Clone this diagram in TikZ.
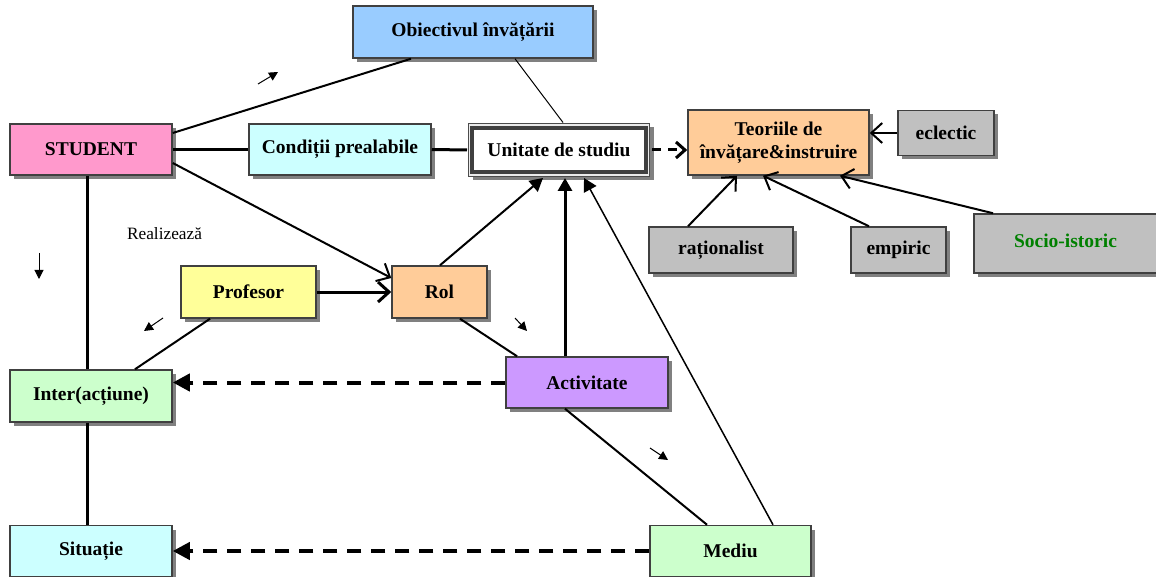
\documentclass[tikz,border=0pt]{standalone}
\usepackage{fontspec}
\setmainfont{Liberation Serif}
\usetikzlibrary{arrows.meta,shadows,calc}
\definecolor{cpink}{HTML}{FF99CC}
\definecolor{cblue}{HTML}{99CCFF}
\definecolor{ccyan}{HTML}{CCFFFF}
\definecolor{corange}{HTML}{FFCC99}
\definecolor{cgrey}{HTML}{C0C0C0}
\definecolor{cyellow}{HTML}{FFFF99}
\definecolor{cpurple}{HTML}{CC99FF}
\definecolor{cgreen}{HTML}{CCFFCC}
\definecolor{dgreen}{HTML}{008000}
\definecolor{bord}{HTML}{404040}
\begin{document}
\begin{tikzpicture}[x=1pt,y=-1pt,
  shad/.style={drop shadow={shadow xshift=4pt,shadow yshift=-4pt,fill=black!50,opacity=1}},
  box/.style={draw=bord,line width=1.5pt,inner sep=0pt,align=center,
    font=\fontsize{19.5}{22}\selectfont\bfseries,shad},
  ln/.style={line width=2pt},
  thk/.style={line width=3pt},
  thn/.style={line width=1pt},
  oarr/.style={-{Straight Barb[length=11pt,width=20pt]}},
  farr/.style={-{Triangle[length=13pt,width=14pt]}},
  darr/.style={line width=4pt,dash pattern=on 14pt off 10pt,-{Triangle[length=17pt,width=17pt]}},
  small/.style={line width=1pt,-{Triangle[length=9pt,width=9pt]}}]
\useasboundingbox (0,0) rectangle (1156,577);
% nodes
\node[box,fill=cpink,minimum width=162pt,minimum height=51pt] (st) at (91,149.5) {STUDENT};
\node[box,fill=cblue,minimum width=240pt,minimum height=52pt] (ob) at (473,32) {Obiectivul învățării};
\node[box,fill=ccyan,minimum width=182pt,minimum height=51pt] (co) at (340,149.5) {Condiții prealabile};
\coordinate (unc) at (559,150);
\draw[line width=1pt,draw=black!70,fill=black!8,shad] ($(unc)+(-90.5pt,26.5pt)$) rectangle ($(unc)+(90.5pt,-26.5pt)$);
\node[fill=white,draw=black!75,line width=4pt,inner sep=0pt,minimum width=174pt,minimum height=44pt,
  font=\fontsize{19.5}{22}\selectfont\bfseries] (un) at (unc) {Unitate de studiu};
\node[box,fill=corange,minimum width=181pt,minimum height=65pt] (te) at (778.5,142.5) {\raisebox{-2.5pt}{\parbox{181pt}{\centering\fontsize{19.5}{23.5}\selectfont Teoriile de\\învățare\&instruire}}};
\node[box,fill=cgrey,minimum width=96pt,minimum height=45pt] (ec) at (946,133) {eclectic};
\node[box,fill=cgrey,minimum width=144pt,minimum height=46pt] (ra) at (721,250) {raționalist};
\node[box,fill=cgrey,minimum width=95pt,minimum height=46pt] (em) at (898.5,250) {empiric};
\node[box,fill=cgrey,minimum width=183pt,minimum height=59pt,text=dgreen] (so) at (1065.5,243.5) {\raisebox{6pt}{Socio-istoric}};
\node[box,fill=cyellow,minimum width=135pt,minimum height=52pt] (pr) at (248.5,292) {Profesor};
\node[box,fill=corange,minimum width=95pt,minimum height=52pt] (ro) at (439.5,292) {Rol};
\node[box,fill=cpurple,minimum width=162pt,minimum height=51pt] (ac) at (587,382.5) {Activitate};
\node[box,fill=cgreen,minimum width=162pt,minimum height=52pt] (in) at (91,396) {Inter(acțiune)};
\node[box,fill=ccyan,minimum width=162pt,minimum height=51pt] (si) at (91,551) {Situație};
\node[box,fill=cgreen,minimum width=161pt,minimum height=51pt] (me) at (730.5,551) {Mediu};
\node[font=\fontsize{17.3}{20}\selectfont,inner sep=0pt] (re) at (164.5,234) {Realizează};
% connectors
\draw[ln] ([yshift=16.5pt]st.east) -- ([xshift=-62pt]ob.south);
\draw[thk] (st.east) -- (co.west);
\draw[thk] (co.east) -- ([xshift=-3pt]un.west);
\draw[thn] ([xshift=42pt]ob.south) -- ([xshift=4pt,yshift=3.5pt]un.north);
\draw[line width=3pt,dash pattern=on 9pt off 7pt,-{Straight Barb[length=9pt,width=16pt]}] ([xshift=4pt]un.east) -- (un.east -| te.west);
\draw[ln,oarr] (ec.west) -- (ec.west -| te.east);
\draw[ln,oarr] ([xshift=-33pt]ra.north) -- ([xshift=-41.5pt]te.south);
\draw[ln,oarr] ([xshift=-29.5pt]em.north) -- ([xshift=-15.5pt]te.south);
\draw[ln,oarr] ([xshift=-72.5pt]so.north) -- ([xshift=61.5pt]te.south);
\draw[ln,oarr] ([yshift=-13.5pt]st.east) -- ([yshift=14pt]ro.west);
\draw[thk,oarr] (pr.east) -- (ro.west);
\draw[ln,farr] ([xshift=0.5pt]ro.north) -- ([xshift=-16pt,yshift=-4pt]un.south);
\draw[thk,farr] ([xshift=-22pt]ac.north) -- ([xshift=6pt,yshift=-4pt]un.south);
\draw[line width=1.5pt,farr] ([xshift=42.5pt]me.north) -- ([xshift=25pt,yshift=-4pt]un.south);
\draw[ln] ([xshift=20.5pt]ro.south) -- ([xshift=-70pt]ac.north);
\draw[ln] ([xshift=-22pt]ac.south) -- ([xshift=-23.5pt]me.north);
\draw[thk] ([xshift=-4pt]st.south) -- ([xshift=-4pt]in.north);
\draw[thk] ([xshift=-4pt]in.south) -- ([xshift=-4pt]si.north);
\draw[ln] ([xshift=-38.5pt]pr.south) -- ([xshift=44pt]in.north);
\draw[darr] (ac.west) -- (ac.west -| in.east);
\draw[darr] (me.west) -- (me.west -| si.east);
% small direction marks
\coordinate (a1) at (258,84); \coordinate (b1) at (278,72);
\coordinate (a2) at (39,253); \coordinate (b2) at (39,279);
\coordinate (a3) at (163,318); \coordinate (b3) at (144,331);
\coordinate (a4) at (515,318); \coordinate (b4) at (527,331);
\coordinate (a5) at (650,448); \coordinate (b5) at (668,460);
\draw[small] (a1) -- (b1);
\draw[small] (a2) -- (b2);
\draw[small] (a3) -- (b3);
\draw[small] (a4) -- (b4);
\draw[small] (a5) -- (b5);
\end{tikzpicture}
\end{document}
